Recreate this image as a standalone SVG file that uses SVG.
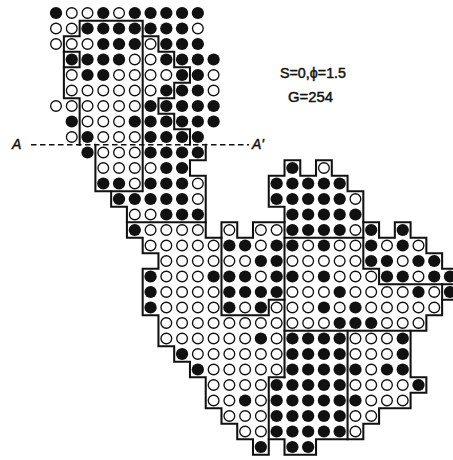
<svg xmlns="http://www.w3.org/2000/svg" xmlns:xlink="http://www.w3.org/1999/xlink" width="453" height="460" viewBox="0 0 453 460">
<defs>
<style>
.b{fill:none;stroke:#111;stroke-width:0.13;stroke-linejoin:miter;stroke-linecap:square}
.t{font-family:"Liberation Sans","DejaVu Sans",sans-serif;font-size:14px;fill:#111;stroke:#111;stroke-width:0.45px}
</style>
<circle id="F" r="0.39" fill="#111"/>
<circle id="O" r="0.34" fill="#fff" stroke="#111" stroke-width="0.085"/>
</defs>
<rect width="453" height="460" fill="#fff"/>
<g transform="translate(56 13) scale(15.76 15.5)">
<g id="outside">
<use href="#F" x="0" y="0"/><use href="#O" x="1" y="0"/><use href="#O" x="2" y="0"/><use href="#F" x="3" y="0"/><use href="#O" x="4" y="0"/><use href="#F" x="5" y="0"/><use href="#F" x="6" y="0"/><use href="#F" x="7" y="0"/><use href="#F" x="8" y="0"/><use href="#F" x="9" y="0"/>
<use href="#O" x="0" y="1"/><use href="#O" x="1" y="1"/><use href="#F" x="6" y="1"/><use href="#F" x="7" y="1"/><use href="#F" x="8" y="1"/><use href="#O" x="9" y="1"/>
<use href="#O" x="0" y="2"/><use href="#F" x="7" y="2"/><use href="#F" x="8" y="2"/><use href="#F" x="9" y="2"/>
<use href="#F" x="1" y="3"/><use href="#F" x="8" y="3"/><use href="#F" x="9" y="3"/><use href="#F" x="10" y="3"/>
<use href="#F" x="9" y="4"/><use href="#O" x="10" y="4"/>
<use href="#F" x="8" y="5"/><use href="#F" x="9" y="5"/><use href="#O" x="10" y="5"/>
<use href="#O" x="0" y="6"/><use href="#O" x="1" y="6"/><use href="#F" x="7" y="6"/><use href="#F" x="8" y="6"/><use href="#F" x="9" y="6"/><use href="#F" x="10" y="6"/>
<use href="#F" x="1" y="7"/><use href="#F" x="8" y="7"/><use href="#F" x="9" y="7"/><use href="#F" x="10" y="7"/>
<use href="#O" x="1" y="8"/><use href="#F" x="9" y="8"/>
<use href="#F" x="2" y="9"/>
</g>
<g id="region-top">
<use href="#F" x="2" y="1"/><use href="#F" x="3" y="1"/><use href="#F" x="4" y="1"/><use href="#F" x="5" y="1"/>
<use href="#O" x="1" y="2"/><use href="#O" x="2" y="2"/><use href="#F" x="3" y="2"/><use href="#F" x="4" y="2"/><use href="#F" x="5" y="2"/>
<use href="#F" x="2" y="3"/><use href="#F" x="3" y="3"/><use href="#F" x="4" y="3"/><use href="#O" x="5" y="3"/>
<use href="#O" x="1" y="4"/><use href="#F" x="2" y="4"/><use href="#F" x="3" y="4"/><use href="#O" x="4" y="4"/><use href="#O" x="5" y="4"/>
<use href="#O" x="1" y="5"/><use href="#O" x="2" y="5"/><use href="#O" x="3" y="5"/><use href="#O" x="4" y="5"/><use href="#O" x="5" y="5"/>
<use href="#O" x="2" y="6"/><use href="#O" x="3" y="6"/><use href="#O" x="4" y="6"/><use href="#O" x="5" y="6"/>
<use href="#O" x="2" y="7"/><use href="#O" x="3" y="7"/><use href="#O" x="4" y="7"/><use href="#F" x="5" y="7"/>
<use href="#F" x="2" y="8"/><use href="#O" x="3" y="8"/><use href="#O" x="4" y="8"/><use href="#O" x="5" y="8"/>
</g>
<g id="region-stair">
<use href="#O" x="6" y="2"/>
<use href="#O" x="6" y="3"/><use href="#F" x="7" y="3"/>
<use href="#O" x="6" y="4"/><use href="#O" x="7" y="4"/><use href="#F" x="8" y="4"/>
<use href="#O" x="6" y="5"/><use href="#F" x="7" y="5"/>
<use href="#F" x="6" y="6"/>
<use href="#F" x="6" y="7"/><use href="#F" x="7" y="7"/>
<use href="#F" x="6" y="8"/><use href="#F" x="7" y="8"/><use href="#F" x="8" y="8"/>
</g>
<g id="region-mid-left">
<use href="#O" x="3" y="9"/><use href="#O" x="4" y="9"/><use href="#O" x="5" y="9"/>
<use href="#O" x="3" y="10"/><use href="#O" x="4" y="10"/><use href="#O" x="5" y="10"/>
<use href="#F" x="3" y="11"/><use href="#F" x="4" y="11"/><use href="#O" x="5" y="11"/>
</g>
<g id="region-mid">
<use href="#F" x="6" y="9"/><use href="#F" x="7" y="9"/><use href="#F" x="8" y="9"/><use href="#F" x="9" y="9"/>
<use href="#O" x="6" y="10"/><use href="#F" x="7" y="10"/><use href="#F" x="8" y="10"/>
<use href="#F" x="6" y="11"/><use href="#F" x="7" y="11"/><use href="#F" x="8" y="11"/><use href="#O" x="9" y="11"/>
<use href="#F" x="4" y="12"/><use href="#F" x="5" y="12"/><use href="#F" x="6" y="12"/><use href="#F" x="7" y="12"/><use href="#F" x="8" y="12"/><use href="#O" x="9" y="12"/>
<use href="#O" x="5" y="13"/><use href="#O" x="6" y="13"/><use href="#F" x="7" y="13"/><use href="#F" x="8" y="13"/><use href="#F" x="9" y="13"/>
</g>
<g id="region-upper-right">
<use href="#F" x="15" y="10"/><use href="#O" x="17" y="10"/>
<use href="#F" x="14" y="11"/><use href="#F" x="15" y="11"/><use href="#F" x="16" y="11"/><use href="#F" x="17" y="11"/><use href="#F" x="18" y="11"/>
<use href="#F" x="14" y="12"/><use href="#F" x="15" y="12"/><use href="#F" x="16" y="12"/><use href="#F" x="17" y="12"/><use href="#F" x="18" y="12"/><use href="#O" x="19" y="12"/>
<use href="#F" x="15" y="13"/><use href="#F" x="16" y="13"/><use href="#F" x="17" y="13"/><use href="#F" x="18" y="13"/><use href="#F" x="19" y="13"/>
<use href="#F" x="15" y="14"/><use href="#F" x="16" y="14"/><use href="#F" x="17" y="14"/><use href="#F" x="18" y="14"/><use href="#O" x="19" y="14"/>
</g>
<g id="region-far-right">
<use href="#F" x="20" y="14"/><use href="#F" x="22" y="14"/>
<use href="#F" x="20" y="15"/><use href="#O" x="21" y="15"/><use href="#F" x="22" y="15"/><use href="#O" x="23" y="15"/>
<use href="#F" x="20" y="16"/><use href="#F" x="21" y="16"/><use href="#O" x="22" y="16"/><use href="#F" x="23" y="16"/><use href="#F" x="24" y="16"/>
<use href="#F" x="21" y="17"/><use href="#F" x="22" y="17"/><use href="#O" x="23" y="17"/><use href="#F" x="24" y="17"/><use href="#F" x="25" y="17"/>
<use href="#F" x="25" y="18"/>
</g>
<g id="region-box">
<use href="#O" x="11" y="14"/><use href="#O" x="13" y="14"/><use href="#O" x="14" y="14"/>
<use href="#F" x="11" y="15"/><use href="#F" x="12" y="15"/><use href="#O" x="13" y="15"/><use href="#F" x="14" y="15"/>
<use href="#O" x="11" y="16"/><use href="#O" x="12" y="16"/><use href="#F" x="13" y="16"/><use href="#F" x="14" y="16"/>
<use href="#F" x="11" y="17"/><use href="#F" x="12" y="17"/><use href="#O" x="13" y="17"/><use href="#F" x="14" y="17"/>
<use href="#F" x="11" y="18"/><use href="#F" x="12" y="18"/><use href="#F" x="13" y="18"/><use href="#F" x="14" y="18"/>
<use href="#F" x="11" y="19"/><use href="#O" x="12" y="19"/><use href="#F" x="13" y="19"/>
</g>
<g id="region-mid-right">
<use href="#F" x="15" y="15"/><use href="#O" x="16" y="15"/><use href="#F" x="17" y="15"/><use href="#O" x="18" y="15"/><use href="#O" x="19" y="15"/>
<use href="#O" x="15" y="16"/><use href="#O" x="16" y="16"/><use href="#O" x="17" y="16"/><use href="#O" x="18" y="16"/><use href="#O" x="19" y="16"/>
<use href="#F" x="15" y="17"/><use href="#O" x="16" y="17"/><use href="#F" x="17" y="17"/><use href="#O" x="18" y="17"/><use href="#O" x="19" y="17"/><use href="#O" x="20" y="17"/>
<use href="#O" x="15" y="18"/><use href="#O" x="16" y="18"/><use href="#O" x="17" y="18"/><use href="#F" x="18" y="18"/><use href="#O" x="19" y="18"/><use href="#O" x="20" y="18"/><use href="#O" x="21" y="18"/><use href="#O" x="22" y="18"/><use href="#F" x="23" y="18"/><use href="#O" x="24" y="18"/>
<use href="#O" x="15" y="19"/><use href="#O" x="16" y="19"/><use href="#F" x="17" y="19"/><use href="#O" x="18" y="19"/><use href="#F" x="19" y="19"/><use href="#O" x="20" y="19"/><use href="#O" x="21" y="19"/><use href="#O" x="22" y="19"/><use href="#O" x="23" y="19"/><use href="#O" x="24" y="19"/>
<use href="#O" x="15" y="20"/><use href="#O" x="16" y="20"/><use href="#O" x="17" y="20"/><use href="#F" x="18" y="20"/><use href="#F" x="19" y="20"/><use href="#F" x="20" y="20"/><use href="#O" x="21" y="20"/><use href="#O" x="22" y="20"/><use href="#O" x="23" y="20"/>
</g>
<g id="region-lower-left">
<use href="#F" x="5" y="14"/><use href="#O" x="6" y="14"/><use href="#O" x="7" y="14"/><use href="#O" x="8" y="14"/><use href="#O" x="9" y="14"/>
<use href="#O" x="6" y="15"/><use href="#O" x="7" y="15"/><use href="#O" x="8" y="15"/><use href="#O" x="9" y="15"/><use href="#O" x="10" y="15"/>
<use href="#O" x="7" y="16"/><use href="#O" x="8" y="16"/><use href="#O" x="9" y="16"/><use href="#O" x="10" y="16"/>
<use href="#F" x="6" y="17"/><use href="#O" x="7" y="17"/><use href="#O" x="8" y="17"/><use href="#O" x="9" y="17"/><use href="#F" x="10" y="17"/>
<use href="#F" x="6" y="18"/><use href="#O" x="7" y="18"/><use href="#O" x="8" y="18"/><use href="#O" x="9" y="18"/><use href="#O" x="10" y="18"/>
<use href="#F" x="6" y="19"/><use href="#O" x="7" y="19"/><use href="#O" x="8" y="19"/><use href="#O" x="9" y="19"/><use href="#O" x="10" y="19"/><use href="#O" x="14" y="19"/>
<use href="#O" x="7" y="20"/><use href="#O" x="8" y="20"/><use href="#O" x="9" y="20"/><use href="#O" x="10" y="20"/><use href="#O" x="11" y="20"/><use href="#O" x="12" y="20"/><use href="#O" x="13" y="20"/><use href="#O" x="14" y="20"/>
<use href="#O" x="7" y="21"/><use href="#O" x="8" y="21"/><use href="#O" x="9" y="21"/><use href="#O" x="10" y="21"/><use href="#O" x="11" y="21"/><use href="#O" x="12" y="21"/><use href="#F" x="13" y="21"/><use href="#O" x="14" y="21"/>
<use href="#F" x="8" y="22"/><use href="#O" x="9" y="22"/><use href="#O" x="10" y="22"/><use href="#O" x="11" y="22"/><use href="#O" x="12" y="22"/><use href="#O" x="13" y="22"/><use href="#O" x="14" y="22"/>
<use href="#F" x="9" y="23"/><use href="#O" x="10" y="23"/><use href="#O" x="11" y="23"/><use href="#O" x="12" y="23"/><use href="#O" x="13" y="23"/><use href="#O" x="14" y="23"/>
<use href="#O" x="10" y="24"/><use href="#O" x="11" y="24"/><use href="#O" x="12" y="24"/><use href="#O" x="13" y="24"/>
<use href="#O" x="10" y="25"/><use href="#O" x="11" y="25"/><use href="#F" x="12" y="25"/><use href="#O" x="13" y="25"/>
<use href="#O" x="11" y="26"/><use href="#O" x="12" y="26"/><use href="#O" x="13" y="26"/>
<use href="#O" x="12" y="27"/><use href="#O" x="13" y="27"/>
<use href="#F" x="13" y="28"/>
</g>
<g id="region-bottom-mid">
<use href="#F" x="15" y="21"/><use href="#F" x="16" y="21"/><use href="#F" x="17" y="21"/><use href="#F" x="18" y="21"/>
<use href="#F" x="15" y="22"/><use href="#F" x="16" y="22"/><use href="#F" x="17" y="22"/><use href="#F" x="18" y="22"/>
<use href="#F" x="15" y="23"/><use href="#F" x="16" y="23"/><use href="#F" x="17" y="23"/><use href="#F" x="18" y="23"/>
<use href="#F" x="14" y="24"/><use href="#F" x="15" y="24"/><use href="#F" x="16" y="24"/><use href="#F" x="17" y="24"/><use href="#F" x="18" y="24"/>
<use href="#F" x="14" y="25"/><use href="#F" x="15" y="25"/><use href="#F" x="16" y="25"/><use href="#F" x="17" y="25"/><use href="#F" x="18" y="25"/>
<use href="#F" x="14" y="26"/><use href="#F" x="15" y="26"/><use href="#F" x="16" y="26"/><use href="#F" x="17" y="26"/><use href="#F" x="18" y="26"/>
<use href="#F" x="14" y="27"/><use href="#F" x="15" y="27"/><use href="#F" x="16" y="27"/><use href="#F" x="17" y="27"/><use href="#F" x="18" y="27"/>
<use href="#F" x="15" y="28"/><use href="#F" x="16" y="28"/>
</g>
<g id="region-bottom-right">
<use href="#O" x="19" y="21"/><use href="#O" x="20" y="21"/><use href="#O" x="21" y="21"/><use href="#F" x="22" y="21"/>
<use href="#O" x="19" y="22"/><use href="#O" x="20" y="22"/><use href="#O" x="21" y="22"/><use href="#F" x="22" y="22"/>
<use href="#F" x="19" y="23"/><use href="#O" x="20" y="23"/><use href="#F" x="21" y="23"/><use href="#F" x="22" y="23"/>
<use href="#O" x="19" y="24"/><use href="#O" x="20" y="24"/><use href="#O" x="21" y="24"/><use href="#O" x="22" y="24"/><use href="#F" x="23" y="24"/>
<use href="#F" x="19" y="25"/><use href="#O" x="20" y="25"/><use href="#O" x="21" y="25"/><use href="#O" x="22" y="25"/>
<use href="#O" x="19" y="26"/><use href="#O" x="20" y="26"/>
<use href="#O" x="19" y="27"/>
</g>
<g id="boundaries">
<path class="b" d="M1.5 8.5V5.5H0.5V3.5H1.5V2.5H0.5V1.5H1.5V0.5H5.5V11.5H2.5V8.5"/>
<path class="b" d="M0.5 2.5V3.5"/>
<path class="b" d="M5.5 1.5H6.5V2.5H7.5V3.5H8.5V4.5H7.5V5.5H6.5V6.5H7.5V7.5H8.5V8.5"/>
<path class="b" d="M9.5 8.5V9.5H8.5V10.5H9.5V13.5H4.5V12.5H3.5V11.5"/>
<path class="b" d="M9.5 13.5V14.5H10.5V13.5H11.5V14.5H12.5V13.5H14.5"/>
<path class="b" d="M10.5 14.5V19.5H13.5V18.5H14.5"/>
<path class="b" d="M4.5 13.5V14.5H5.5V15.5H6.5V16.5H5.5V19.5H6.5V21.5H7.5V22.5H8.5V23.5H9.5V25.5H10.5V26.5H11.5V27.5H12.5V28.5H13.5V23.5H14.5"/>
<path class="b" d="M14.5 23.5V12.5H13.5V10.5H14.5V9.5H15.5V10.5H16.5V9.5H17.5V10.5H18.5V11.5H19.5V16.5H20.5V17.5H26"/>
<path class="b" d="M14.5 14.5H19.5"/>
<path class="b" d="M19.5 13.5H20.5V14.5H21.5V13.5H22.5V14.5H23.5V15.5H24.5V16.5H26"/>
<path class="b" d="M24.5 17.5V19.5H23.5V20.5H14.5"/>
<path class="b" d="M24.5 18.5H26"/>
<path class="b" d="M13.5 27.5H14.5V28.5H16.5V27.5H18.5V20.5"/>
<path class="b" d="M18.5 27.5H19.5V26.5H20.5V25.5H22.5V24.5H23.5V23.5H22.5V20.5"/>
</g>
</g>
<g id="section-line">
<line x1="31" y1="144.75" x2="249" y2="144.75" stroke="#111" stroke-width="1.6" stroke-dasharray="5.5 3.5"/>
<text class="t" x="12" y="149" font-style="italic">A</text>
<text class="t" x="252" y="149" font-style="italic">A'</text>
</g>
<g id="labels">
<text class="t" x="280" y="78" textLength="66" lengthAdjust="spacingAndGlyphs">S=0,ϕ=1.5</text>
<text class="t" x="288" y="102" textLength="45" lengthAdjust="spacingAndGlyphs">G=254</text>
</g>
</svg>
